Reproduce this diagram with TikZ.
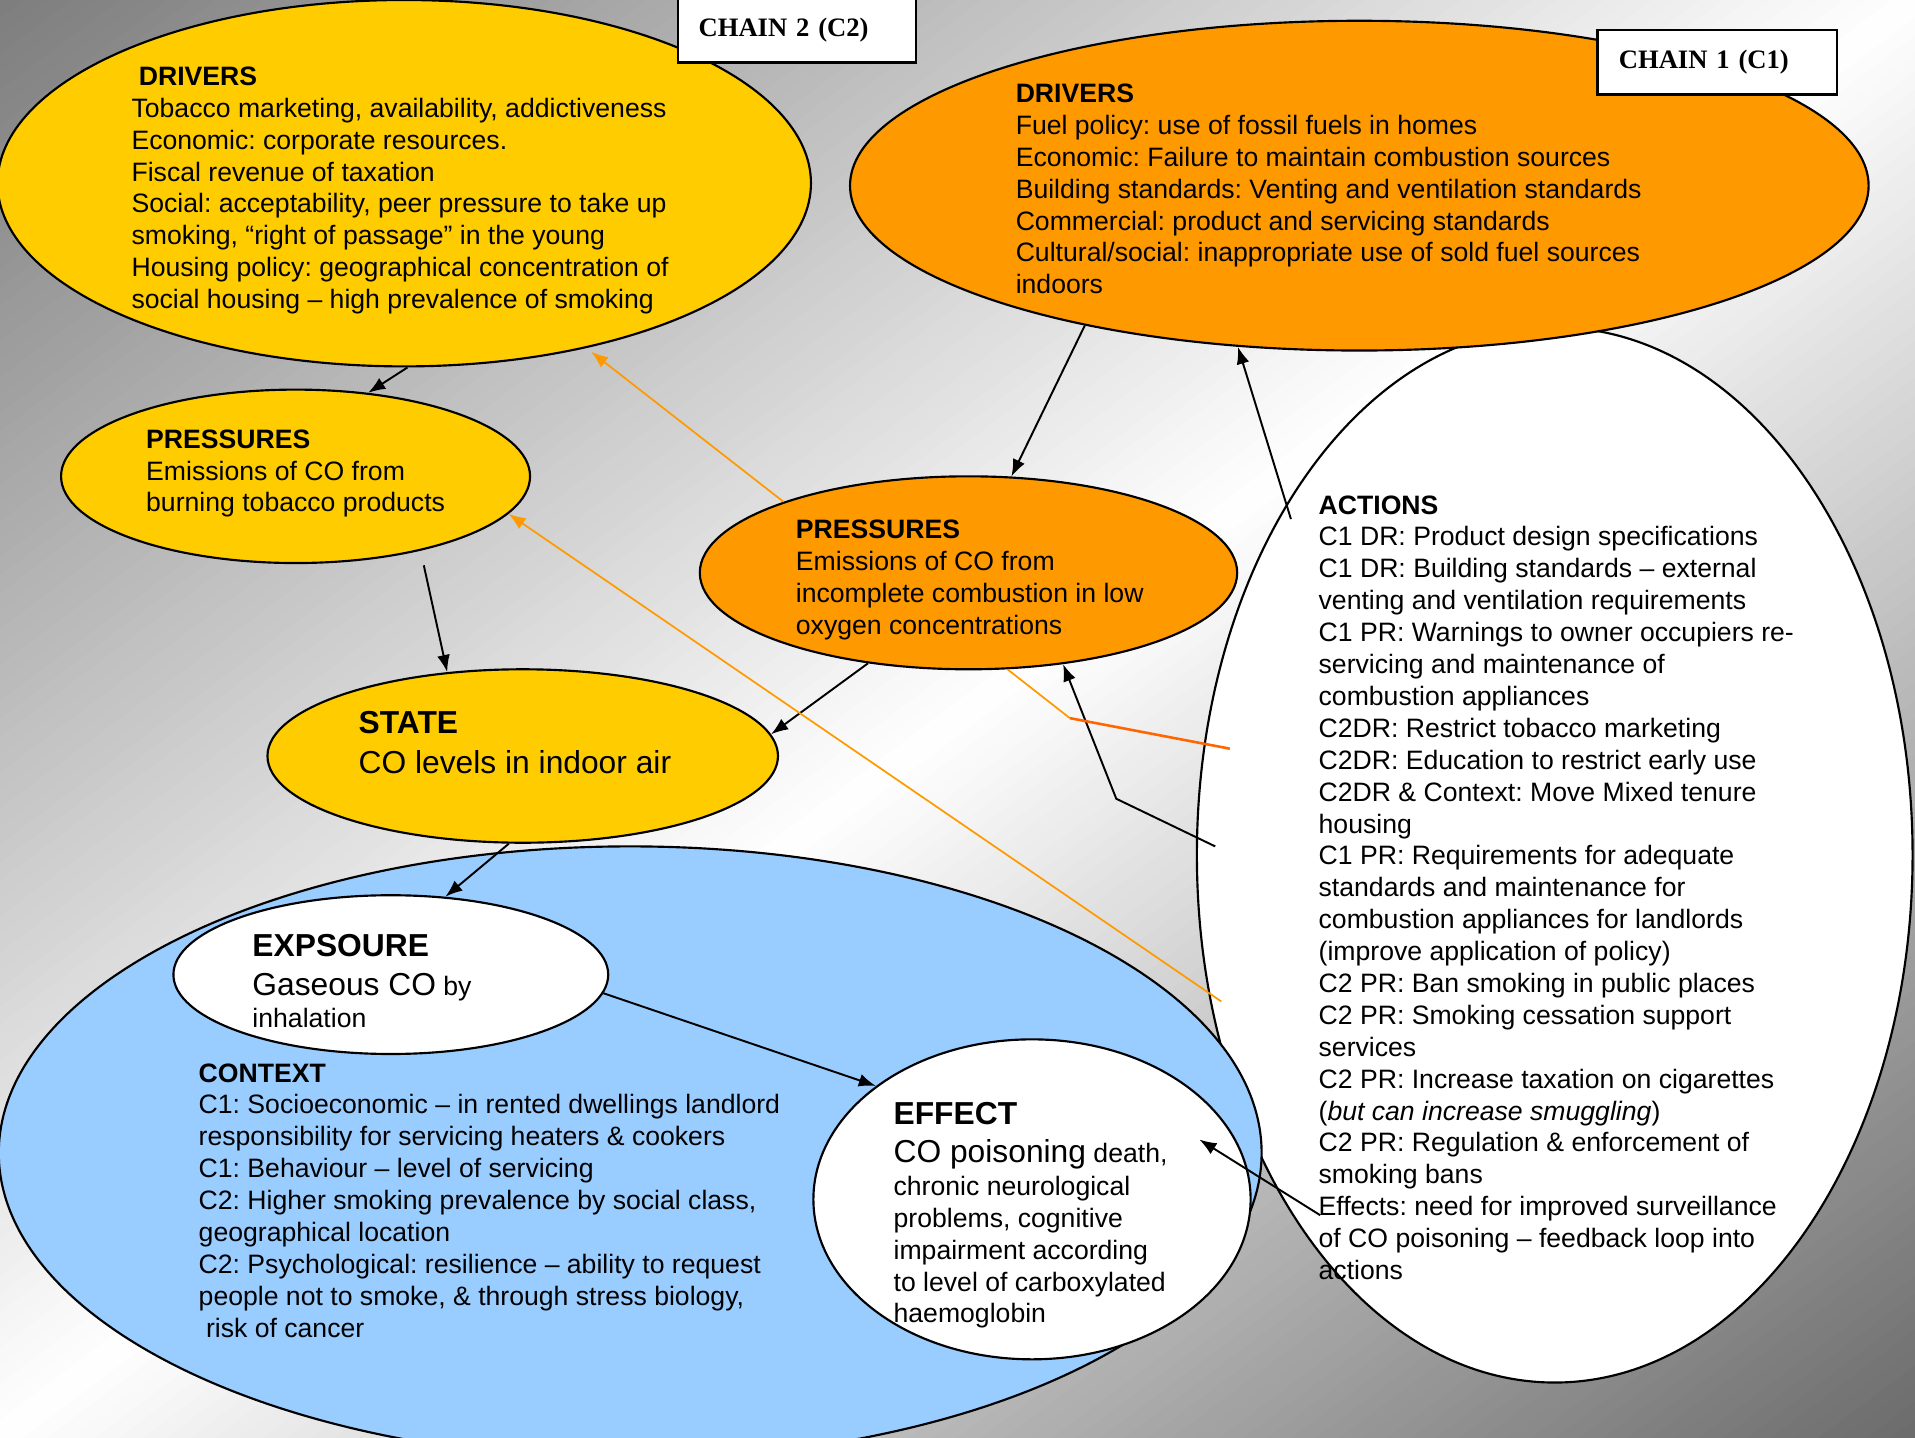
\documentclass[tikz,border=0pt]{standalone}
\usepackage{fontspec}
\setmainfont{Liberation Sans}
\newfontfamily\chainfont{Liberation Serif}
\usepackage{tikz}
\usetikzlibrary{shapes.geometric, arrows.meta}
\usepackage{xcolor}
\frenchspacing

\definecolor{ylw}{HTML}{FFCC00}
\definecolor{org}{HTML}{FF9900}
\definecolor{sky}{HTML}{99CCFF}
\definecolor{rust}{HTML}{FF6600}

\newcommand{\bodyfont}{\fontsize{6.2pt}{7.43pt}\selectfont}
\newcommand{\bigfont}{\fontsize{7.4pt}{9.3pt}\selectfont}

\begin{document}
\begin{tikzpicture}[
    blob/.style={ellipse, draw=black, line width=0.5pt, inner sep=0pt},
    lbl/.style={anchor=north west, align=left, inner sep=0pt, font=\bodyfont},
    chainbox/.style={draw=black, line width=0.6pt, fill=white, inner xsep=0.17cm, text width=1.61cm, minimum height=0.53cm, align=left, font=\chainfont\bfseries\bodyfont},
    arr/.style={-{Latex[length=4pt,width=3pt]}, line width=0.45pt},
    oarr/.style={arr, draw=org, line width=0.4pt},
    oline/.style={draw=org, line width=0.4pt},
    rline/.style={draw=rust, line width=0.6pt}
  ]

        \useasboundingbox (0,0) rectangle (15.68,-11.77);

        % grey background, light along the diagonal from bottom left to top right
        \begin{scope}
            \clip (0,0) rectangle (15.68,-11.77);
            \foreach \i in {0,...,159} {
                \pgfmathsetmacro{\sa}{\i/80}
                \pgfmathsetmacro{\sb}{(\i+1.8)/80}
                \pgfmathsetmacro{\shd}{(\i+0.5)/80 < 1 ? 51*(1-(\i+0.5)/80) : 58*((\i+0.5)/80-1)}
                \fill[black!\shd] (\sa*15.68,0) -- (0,-\sa*11.77) -- (0,-\sb*11.77) -- (\sb*15.68,0) -- cycle;
            }
        \end{scope}

        % ellipses, back to front
        \node[blob, fill=white, minimum width=5.86cm, minimum height=8.64cm] (actions) at (12.73,-7.00) {};
        \node[blob, fill=org, minimum width=8.34cm, minimum height=2.70cm] (drvone) at (11.13,-1.52) {};
        \node[blob, fill=ylw, minimum width=6.66cm, minimum height=3.00cm] (drvtwo) at (3.31,-1.50) {};
        \node[chainbox, minimum width=1.95cm] (chaintwo) at (6.525,-0.245) {CHAIN 2 (C2)};
        \node[chainbox, minimum width=1.96cm] (chainone) at (14.06,-0.51) {CHAIN 1 (C1)};
        \node[blob, fill=ylw, minimum width=3.84cm, minimum height=1.42cm] (prstwo) at (2.42,-3.90) {};
        \node[blob, fill=org, minimum width=4.40cm, minimum height=1.58cm] (prsone) at (7.93,-4.69) {};
        \node[blob, fill=ylw, minimum width=4.18cm, minimum height=1.42cm] (state) at (4.28,-6.19) {};
        \node[blob, fill=sky, minimum width=10.34cm, minimum height=5.02cm] (context) at (5.16,-9.44) {};
        \node[blob, fill=white, minimum width=3.56cm, minimum height=1.30cm] (expo) at (3.20,-7.98) {};
        \node[blob, fill=white, minimum width=3.58cm, minimum height=2.62cm] (effect) at (8.45,-9.82) {};

        % texts
        \node[lbl] (drvtwotext) at (1.07,-0.54) {\hspace*{1.7pt}\textbf{DRIVERS}\\
            Tobacco marketing, availability, addictiveness\\
            Economic: corporate resources.\\
            Fiscal revenue of taxation\\
            Social: acceptability, peer pressure to take up\\
            smoking, “right of passage” in the young\\
            Housing policy: geographical concentration of\\
            social housing – high prevalence of smoking};
        \node[lbl] (drvonetext) at (8.31,-0.68) {\textbf{DRIVERS}\\
            Fuel policy: use of fossil fuels in homes\\
            Economic: Failure to maintain combustion sources\\
            Building standards: Venting and ventilation standards\\
            Commercial: product and servicing standards\\
            Cultural/social: inappropriate use of sold fuel sources\\
            indoors};
        \node[lbl] (prstwotext) at (1.19,-3.51) {\textbf{PRESSURES}\\
            Emissions of CO from\\
            burning tobacco products};
        \node[lbl] (prsonetext) at (6.51,-4.25) {\textbf{PRESSURES}\\
            Emissions of CO from\\
            incomplete combustion in low\\
            oxygen concentrations};
        \node[lbl, font=\bigfont] (statetext) at (2.93,-5.82) {\textbf{STATE}\\
            CO levels in indoor air};
        \node[lbl] (expotext) at (2.06,-7.64) {{\bigfont\textbf{EXPSOURE}}\\[1.7pt]
            {\bigfont Gaseous CO} by\\
            inhalation};
        \node[lbl] (contexttext) at (1.62,-8.70) {\textbf{CONTEXT}\\
            C1: Socioeconomic – in rented dwellings landlord\\
            responsibility for servicing heaters \& cookers\\
            C1: Behaviour – level of servicing\\
            C2: Higher smoking prevalence by social class,\\
            geographical location\\
            C2: Psychological: resilience – ability to request\\
            people not to smoke, \& through stress biology,\\
            \hspace*{1.7pt}risk of cancer};
        \node[lbl] (effecttext) at (7.31,-9.02) {{\bigfont\textbf{EFFECT}}\\[1.3pt]
            {\bigfont CO poisoning} death,\\[0.3pt]
            chronic neurological\\
            problems, cognitive\\
            impairment according\\
            to level of carboxylated\\
            haemoglobin};
        \node[lbl] (actionstext) at (10.79,-4.05) {\textbf{ACTIONS}\\
            C1 DR: Product design specifications\\
            C1 DR: Building standards – external\\
            venting and ventilation requirements\\
            C1 PR: Warnings to owner occupiers re-\\
            servicing and maintenance of\\
            combustion appliances\\
            C2DR: Restrict tobacco marketing\\
            C2DR: Education to restrict early use\\
            C2DR \& Context: Move Mixed tenure\\
            housing\\
            C1 PR: Requirements for adequate\\
            standards and maintenance for\\
            combustion appliances for landlords\\
            (improve application of policy)\\
            C2 PR: Ban smoking in public places\\
            C2 PR: Smoking cessation support\\
            services\\
            C2 PR: Increase taxation on cigarettes\\
            (\textit{but can increase smuggling})\\
            C2 PR: Regulation \& enforcement of\\
            smoking bans\\
            Effects: need for improved surveillance\\
            of CO poisoning – feedback loop into\\
            actions};

        % free ends and knees
        \coordinate (actA) at (10.57,-4.25);
        \coordinate (actB) at (9.95,-6.93);
        \coordinate (kneeB) at (9.14,-6.54);
        \coordinate (actC) at (10.81,-9.95);
        \coordinate (actD) at (10.00,-8.20);
        \coordinate (kneeE) at (8.76,-5.88);
        \coordinate (actE) at (10.07,-6.13);

        % chain links
        \draw[arr] (drvtwo.-89) -- (prstwo.49);
        \draw[arr] ([xshift=1.05cm,yshift=-0.01cm]prstwo.south) -- (state.132);
        \draw[arr] (drvone.207) -- (prsone.66);
        \draw[arr] (prsone.-138) -- (state.5);
        \draw[arr] (state.-99) -- (expo.55);
        \draw[arr] (expo.-5) -- (effect.144);

        % actions feeding back
        \draw[arr] (actA) -- (drvone.-127);
        \draw[arr] (actB) -- (kneeB) -- (prsone.-44);
        \draw[arr] (actC) -- ([shift={(1.37,0.49)}]effect.center);
        \draw[oarr] (prsone.159) -- ([shift={(1.53,-1.38)}]drvtwo.center);
        \draw[oarr] (actD) -- (prstwo.-10);
        \draw[oline] (prsone.-68) -- (kneeE);
        \draw[rline] (kneeE) -- (actE);

    \end{tikzpicture}
\end{document}
